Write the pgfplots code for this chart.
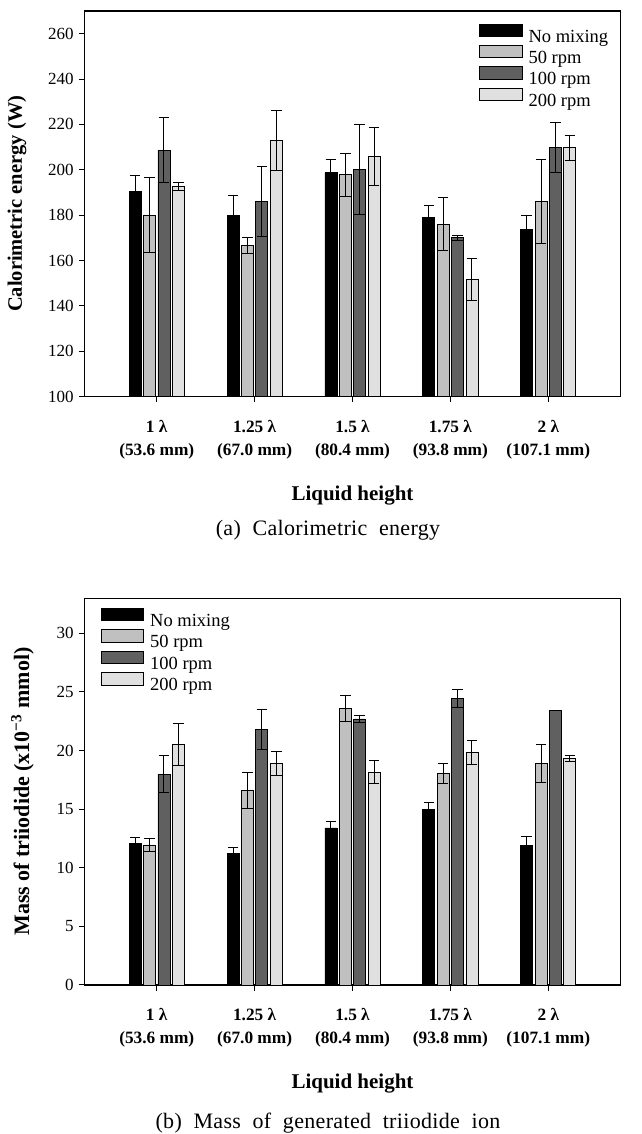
\documentclass[border=0pt]{standalone}
\usepackage{fontspec}
\setmainfont{Liberation Serif}
\usepackage{pgfplots}
\usepackage{pgfplotstable}
\pgfplotsset{compat=1.18}
\definecolor{cNM}{RGB}{0,0,0}
\definecolor{cF}{RGB}{192,192,192}
\definecolor{cH}{RGB}{96,96,96}
\definecolor{cT}{RGB}{224,224,224}

% Calorimetric energy
\pgfplotstableread{
x y e
0 190.6 6.7
1 180.0 8.6
2 198.7 5.9
3 179.1 5.1
4 173.6 6.4
}\topNM
\pgfplotstableread{
x y e
0 180.0 16.5
1 166.6 3.4
2 197.8 9.5
3 176.1 11.5
4 186.1 18.5
}\topF
\pgfplotstableread{
x y e
0 208.7 14.5
1 186.1 15.3
2 200.2 19.7
3 170.0 1.0
4 209.8 11.0
}\topH
\pgfplotstableread{
x y e
0 192.5 1.8
1 212.9 13.3
2 205.8 12.7
3 151.6 9.3
4 209.8 5.5
}\topT
% Triiodide
\pgfplotstableread{
x y e
0 12.1 0.5
1 11.2 0.5
2 13.4 0.57
3 15.0 0.6
4 11.9 0.8
}\botNM
\pgfplotstableread{
x y e
0 11.95 0.55
1 16.6 1.5
2 23.6 1.1
3 18.05 0.85
4 18.9 1.6
}\botF
\pgfplotstableread{
x y e
0 18.0 1.55
1 21.8 1.7
2 22.7 0.3
3 24.45 0.8
4 23.4 0.0
}\botH
\pgfplotstableread{
x y e
0 20.5 1.8
1 18.9 1.0
2 18.15 1.0
3 19.85 1.0
4 19.3 0.26
}\botT

\pgfplotsset{
  mylegend/.style={legend image code/.code={\draw[##1,draw=black,line width=1pt] (0pt,0.3pt) rectangle (42.6pt,12.6pt);}},
  myerr/.style={error bars/.cd, y dir=both, y explicit,
     error mark=-,
     error bar style={line width=1pt,black},
     error mark options={rotate=90,mark size=5.3pt,line width=1pt,black}},
  common/.style={
    scale only axis, width=536.4pt,
    xmin=-0.74, xmax=4.74,
    ybar, bar width=0.1225,
    axis line style={line width=1.2pt},
    tick style={black,line width=1pt},
    major tick length=5.5pt,
    tick align=outside,
    xtick pos=bottom, ytick pos=left,
    xtick={0,1,2,3,4},
    xticklabels={{1 λ\\(53.6 mm)},{1.25 λ\\(67.0 mm)},{1.5 λ\\(80.4 mm)},{1.75 λ\\(93.8 mm)},{2 λ\\(107.1 mm)}},
    xticklabel style={align=center,font=\fontsize{17.3}{23}\selectfont\bfseries,inner sep=0pt,yshift=-18pt},
    yticklabel style={font=\fontsize{17}{17}\selectfont,inner sep=0pt,xshift=-5pt},
    /pgf/number format/assume math mode=true,
    xlabel={Liquid height},
    legend cell align=left,
  },
}

\begin{document}
\begin{tikzpicture}
\useasboundingbox (0,0) rectangle (641pt,1134pt);
\begin{axis}[common,
  at={(84.3pt,737.3pt)}, anchor=south west,
  height=385.7pt, ymin=100, ymax=270,
  ytick={100,120,...,260},
  ylabel={Calorimetric energy (W)},
  ylabel style={font=\fontsize{20.5}{20.5}\selectfont\bfseries,at={(axis description cs:-0.1255,0.5)},anchor=center},
  xlabel style={font=\fontsize{21}{21}\selectfont\bfseries,at={(axis description cs:0.5,-0.2575)},anchor=center},
  legend style={draw=none,fill=none,at={(0.7353,0.968)},anchor=north west,
     font=\fontsize{18.5}{18.5}\selectfont,row sep=-0.6pt,column sep=4pt,inner sep=0pt},
]
\addplot[fill=cNM,draw=black,line width=0.8pt,bar shift=-0.2205,mylegend,myerr] table[x=x,y=y,y error=e]{\topNM};
\addlegendentry{No mixing}
\addplot[fill=cF,draw=black,line width=0.8pt,bar shift=-0.0735,mylegend,myerr] table[x=x,y=y,y error=e]{\topF};
\addlegendentry{50 rpm}
\addplot[fill=cH,draw=black,line width=0.8pt,bar shift=0.0735,mylegend,myerr] table[x=x,y=y,y error=e]{\topH};
\addlegendentry{100 rpm}
\addplot[fill=cT,draw=black,line width=0.8pt,bar shift=0.2205,mylegend,myerr] table[x=x,y=y,y error=e]{\topT};
\addlegendentry{200 rpm}
\end{axis}
\node[font=\fontsize{22}{22}\selectfont\addfontfeature{LetterSpace=1.5}] at (328pt,604pt) {(a)~ Calorimetric~ energy};

\begin{axis}[common,
  at={(84.3pt,149pt)}, anchor=south west,
  height=386.8pt, ymin=0, ymax=33,
  ytick={0,5,...,30},
  ylabel={Mass of triiodide (x10\textsuperscript{−3} mmol)},
  ylabel style={font=\fontsize{22}{22}\selectfont\bfseries,at={(axis description cs:-0.1152,0.5)},anchor=center},
  xlabel style={font=\fontsize{21}{21}\selectfont\bfseries,at={(axis description cs:0.5,-0.2535)},anchor=center},
  legend style={draw=none,fill=none,at={(0.0299,0.975)},anchor=north west,
     font=\fontsize{18.5}{18.5}\selectfont,row sep=-0.6pt,column sep=4pt,inner sep=0pt},
]
\addplot[fill=cNM,draw=black,line width=0.8pt,bar shift=-0.2205,mylegend,myerr] table[x=x,y=y,y error=e]{\botNM};
\addlegendentry{No mixing}
\addplot[fill=cF,draw=black,line width=0.8pt,bar shift=-0.0735,mylegend,myerr] table[x=x,y=y,y error=e]{\botF};
\addlegendentry{50 rpm}
\addplot[fill=cH,draw=black,line width=0.8pt,bar shift=0.0735,mylegend,myerr] table[x=x,y=y,y error=e]{\botH};
\addlegendentry{100 rpm}
\addplot[fill=cT,draw=black,line width=0.8pt,bar shift=0.2205,mylegend,myerr] table[x=x,y=y,y error=e]{\botT};
\addlegendentry{200 rpm}
\end{axis}
\node[font=\fontsize{22}{22}\selectfont\addfontfeature{LetterSpace=1.5}] at (328pt,11pt) {(b)~ Mass~ of~ generated~ triiodide~ ion};
\end{tikzpicture}
\end{document}
